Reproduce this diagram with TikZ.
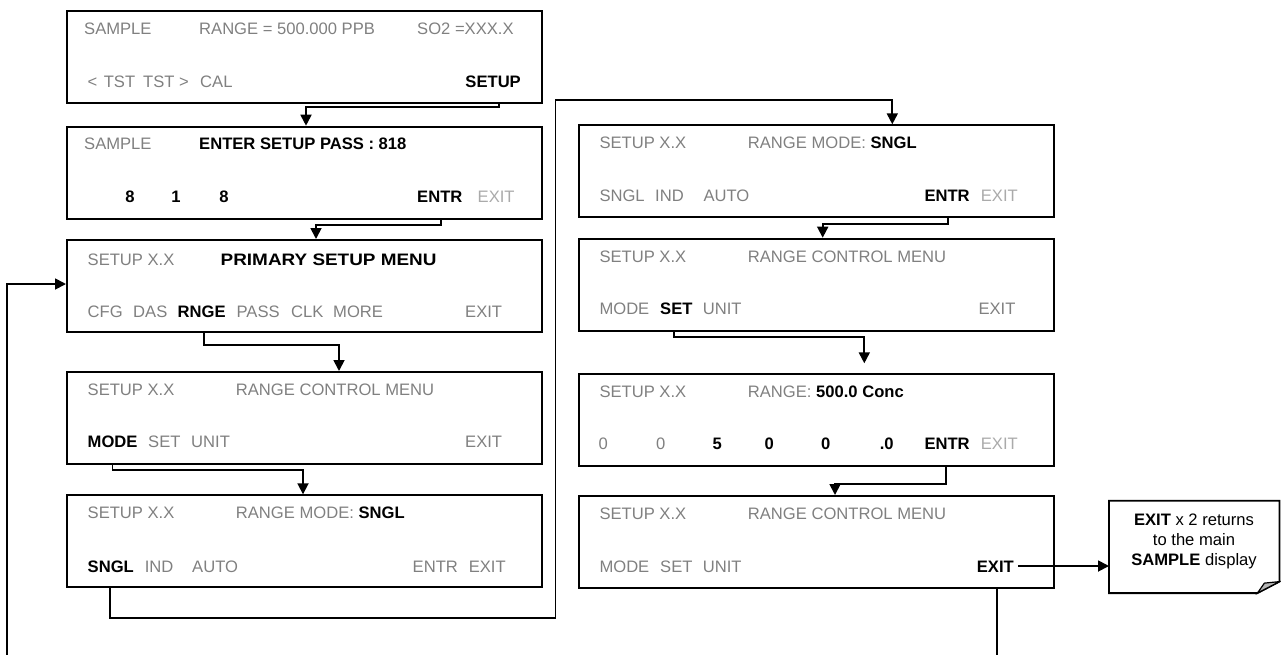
\documentclass[tikz,border=0pt]{standalone}
\usepackage{fontspec}
\usepackage{graphicx}
\setmainfont{Liberation Sans}
\usetikzlibrary{arrows.meta}
\definecolor{tg}{RGB}{128,128,128}
\definecolor{tl}{RGB}{170,170,170}
\definecolor{foldc}{RGB}{180,180,180}
\begin{document}
\begin{tikzpicture}[x=1pt,y=-1pt,
  scr/.style={draw,line width=1.8pt,anchor=north west,inner sep=0pt,minimum width=475pt,minimum height=92pt},
  tx/.style={inner sep=0pt,anchor=base west,text=tg,font=\fontsize{16.6}{19}\selectfont},
  tlx/.style={tx,text=tl},
  bx/.style={tx,text=black,font=\fontsize{16.6}{19}\selectfont\bfseries},
  dig/.style={bx,anchor=base},
  gdig/.style={tx,anchor=base},
  conn/.style={line width=1.8pt},
  arr/.style={conn,-{Triangle[width=11pt,length=11pt]}}
]
\useasboundingbox (0,0) rectangle (1281,654);
\clip (0,0) rectangle (1281,654);

% ---------- left column ----------
\node[scr] (L1) at (66,10) {};
\node[tx] (l1a) at (84,34) {SAMPLE};
\node[tx] (l1b) at (199,34) {RANGE = 500.000 PPB};
\node[tx] (l1c) at (417,34) {SO2 =XXX.X};
\node[tx] (l1d) at (87.5,87) {<};
\node[tx] (l1e) at (103.6,87) {TST};
\node[tx] (l1f) at (143,87) {TST >};
\node[tx] (l1g) at (200,87) {CAL};
\node[bx,anchor=base east] (l1setup) at (521,87) {SETUP};

\node[scr] (L2) at (66,125.7) {};
\node[tx] (l2a) at (84,149.7) {SAMPLE};
\node[bx] (l2b) at (199,149.7) {ENTER SETUP PASS : 818};
\node[dig] (l2c) at (130,202.7) {8};
\node[dig] (l2d) at (176,202.7) {1};
\node[dig] (l2e) at (224,202.7) {8};
\node[bx] (l2entr) at (417,202.7) {ENTR};
\node[tlx] (l2exit) at (477.5,202.7) {EXIT};

\node[scr] (L3) at (66,239) {};
\node[tx] (l3a) at (87.5,265) {SETUP X.X};
\node[bx] (l3b) at (220.5,265) {\scalebox{1.14}[1]{PRIMARY SETUP MENU}};
\node[tx] (l3c) at (87.5,317.5) {CFG};
\node[tx] (l3d) at (133,317.5) {DAS};
\node[bx] (l3rnge) at (177.5,317.5) {RNGE};
\node[tx] (l3f) at (236.4,317.5) {PASS};
\node[tx] (l3g) at (291,317.5) {CLK};
\node[tx] (l3h) at (333,317.5) {MORE};
\node[tx] (l3exit) at (465,317.5) {EXIT};

\node[scr] (L4) at (66,371) {};
\node[tx] (l4a) at (87.5,395) {SETUP X.X};
\node[tx] (l4b) at (235.7,395) {RANGE CONTROL MENU};
\node[bx] (l4mode) at (87.5,447.7) {MODE};
\node[tx] (l4d) at (148,447.7) {SET};
\node[tx] (l4e) at (191,447.7) {UNIT};
\node[tx] (l4exit) at (465,447.7) {EXIT};

\node[scr] (L5) at (66,494.3) {};
\node[tx] (l5a) at (87.5,518.7) {SETUP X.X};
\node[tx] (l5b) at (235.7,518.7) {RANGE MODE: \textcolor{black}{\bfseries SNGL}};
\node[bx] (l5sngl) at (87.5,572) {SNGL};
\node[tx] (l5d) at (144.6,572) {IND};
\node[tx] (l5e) at (192,572) {AUTO};
\node[tx] (l5f) at (412.5,572) {ENTR};
\node[tx] (l5g) at (468.6,572) {EXIT};

% ---------- right column ----------
\node[scr] (R1) at (578.3,124.3) {};
\node[tx] (r1a) at (599.3,148.3) {SETUP X.X};
\node[tx] (r1b) at (747.7,148.3) {RANGE MODE: \textcolor{black}{\bfseries SNGL}};
\node[tx] (r1c) at (599.3,201) {SNGL};
\node[tx] (r1d) at (655,201) {IND};
\node[tx] (r1e) at (703.3,201) {AUTO};
\node[bx] (r1entr) at (924.3,201) {ENTR};
\node[tlx] (r1exit) at (980.7,201) {EXIT};

\node[scr] (R2) at (578.3,237.7) {};
\node[tx] (r2a) at (599.3,262) {SETUP X.X};
\node[tx] (r2b) at (747.7,262) {RANGE CONTROL MENU};
\node[tx] (r2c) at (599.3,314.3) {MODE};
\node[bx] (r2set) at (660,314.3) {SET};
\node[tx] (r2e) at (702.7,314.3) {UNIT};
\node[tx] (r2exit) at (978.3,314.3) {EXIT};

\node[scr] (R3) at (578.3,373.3) {};
\node[tx] (r3a) at (599.3,397.7) {SETUP X.X};
\node[tx] (r3b) at (747.7,397.7) {RANGE: \textcolor{black}{\bfseries 500.0 Conc}};
\node[gdig] (r3c) at (603.3,449) {0};
\node[gdig] (r3d) at (660.7,449) {0};
\node[dig] (r3e) at (717.3,449) {5};
\node[dig] (r3f) at (769.3,449) {0};
\node[dig] (r3g) at (825.7,449) {0};
\node[dig] (r3h) at (886.7,449) {.0};
\node[bx] (r3entr) at (924.3,449) {ENTR};
\node[tlx] (r3exit) at (980.7,449) {EXIT};

\node[scr] (R4) at (578.3,495) {};
\node[tx] (r4a) at (599.3,519.3) {SETUP X.X};
\node[tx] (r4b) at (747.7,519.3) {RANGE CONTROL MENU};
\node[tx] (r4c) at (599.3,572) {MODE};
\node[tx] (r4d) at (660,572) {SET};
\node[tx] (r4e) at (702.7,572) {UNIT};
\node[bx] (r4exit) at (976.7,572) {EXIT};

% ---------- note ----------
\node[minimum width=170pt,minimum height=92pt,inner sep=0pt,anchor=north west] (note) at (1109,500.7) {};
\draw[line width=1.8pt,fill=white] (note.north west) -- (note.north east) -- ([yshift=11.5pt]note.south east) -- ([xshift=-22pt]note.south east) -- (note.south west) -- cycle;
\draw[line width=1.2pt,fill=foldc] ([xshift=-22pt]note.south east) -- ([xshift=-15pt,yshift=10pt]note.south east) -- ([yshift=11.5pt]note.south east) -- cycle;
\node[inner sep=0pt,align=center,font=\fontsize{16.6}{20}\selectfont] (notetext) at (1194,541.5) {\textbf{EXIT} x 2 returns\\to the main\\\textbf{SAMPLE} display};

% ---------- connectors ----------
\coordinate (a1) at (499,107.3);  \coordinate (a2) at (306,107.3);
\draw[arr] (a1 |- L1.south) -- (a1) -- (a2) -- (a2 |- L2.north);

\coordinate (b1) at (441,225);  \coordinate (b2) at (316,225);
\draw[arr] (b1 |- L2.south) -- (b1) -- (b2) -- (b2 |- L3.north);

\coordinate (c1) at (203.6,345);  \coordinate (c2) at (339,345);
\draw[arr] (c1 |- L3.south) -- (c1) -- (c2) -- (c2 |- L4.north);

\coordinate (d1) at (112.5,470);  \coordinate (d2) at (303,470);
\draw[arr] (d1 |- L4.south) -- (d1) -- (d2) -- (d2 |- L5.north);

\coordinate (e1) at (109.6,618.3);  \coordinate (e2) at (555.5,618.3);
\coordinate (e3) at (555.5,100);  \coordinate (e4) at (892.3,100);
\draw[arr] (e1 |- L5.south) -- (e1) -- (e2) -- (e3) -- (e4) -- (e4 |- R1.north);

\coordinate (f1) at (947.7,224);  \coordinate (f2) at (822.7,224);
\draw[arr] (f1 |- R1.south) -- (f1) -- (f2) -- (f2 |- R2.north);

\coordinate (g1) at (674,337.3);  \coordinate (g2) at (864.3,337.3);
\draw[arr,shorten >=10pt] (g1 |- R2.south) -- (g1) -- (g2) -- (g2 |- R3.north);

\coordinate (h1) at (945.7,484);  \coordinate (h2) at (835,484);
\draw[arr] (h1 |- R3.south) -- (h1) -- (h2) -- (h2 |- R4.north);

\draw[arr] ([xshift=4pt]r4exit.east |- 0,566) -- (note.west |- 0,566);

\coordinate (k1) at (997.3,680);  \coordinate (k2) at (7,680);  \coordinate (k3) at (7,284);
\draw[arr] (k1 |- R4.south) -- (k1) -- (k2) -- (k3) -- (L3.west |- k3);
\end{tikzpicture}
\end{document}
